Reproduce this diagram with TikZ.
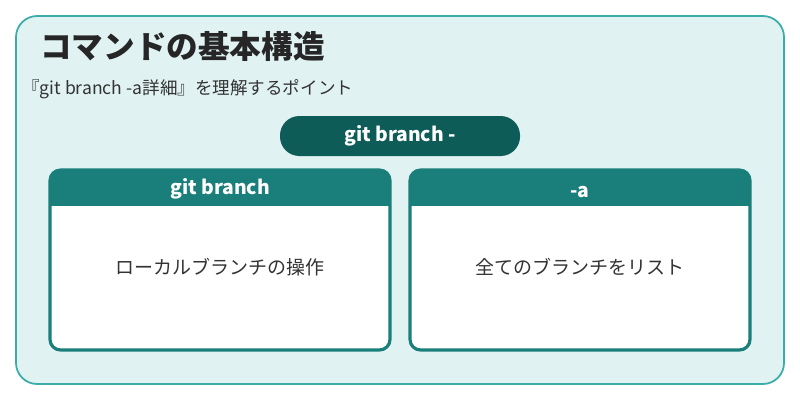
\documentclass[tikz,border=0pt]{standalone}
\usepackage{fontspec}
\setmainfont{Noto Sans CJK JP}
\definecolor{bgteal}{HTML}{E0F3F2}
\definecolor{rimteal}{HTML}{3AADA8}
\definecolor{darkteal}{HTML}{0E5C58}
\definecolor{headteal}{HTML}{1A7F7B}
\definecolor{inktext}{HTML}{333333}
\tikzset{
  cardrim/.style={draw=headteal, line width=1.8pt, rounded corners=6pt},
  cardhead/.style={fill=headteal, rounded corners=6pt},
  headtext/.style={text=white, font=\fontsize{11}{13}\selectfont\bfseries},
  bodytext/.style={text=inktext, font=\fontsize{10.8}{13}\selectfont}
}
\begin{document}
\begin{tikzpicture}[x=0.02cm, y=-0.02cm]
\useasboundingbox (0,0) rectangle (800,400);
% Draw the panel.
\fill[white] (0,0) rectangle (800,400);
\draw[fill=bgteal, draw=rimteal, line width=1pt, rounded corners=12pt] (16,16) rectangle (784,384);
% Title and subtitle.
\node[anchor=west, text=black!85, font=\fontsize{18}{21}\selectfont\bfseries] (title) at (34,46) {コマンドの基本構造};
\node[anchor=west, text=inktext, font=\fontsize{10}{12}\selectfont] (subtitle) at (16,89) {『git branch -a詳細』を理解するポイント};
% The command pill.
\node[fill=darkteal, rounded corners=11pt, minimum width=240*0.02cm, minimum height=40*0.02cm,
  headtext] (cmd) at (400,136) {git branch -};
% Left card.
\fill[cardhead] (50,170) rectangle (390,206);
\fill[headteal] (50,195) rectangle (390,206);
\fill[white] (51,206) rectangle (389,349);
\draw[cardrim] (50,170) rectangle (390,350);
\node[headtext] (lefthead) at (220,189) {git branch};
\node[bodytext] (leftbody) at (220,267) {ローカルブランチの操作};
% Right card.
\fill[cardhead] (410,170) rectangle (750,206);
\fill[headteal] (410,195) rectangle (750,206);
\fill[white] (411,206) rectangle (749,349);
\draw[cardrim] (410,170) rectangle (750,350);
\node[headtext] (righthead) at (580,192) {-a};
\node[bodytext] (rightbody) at (580,267) {全てのブランチをリスト};
\end{tikzpicture}
\end{document}
